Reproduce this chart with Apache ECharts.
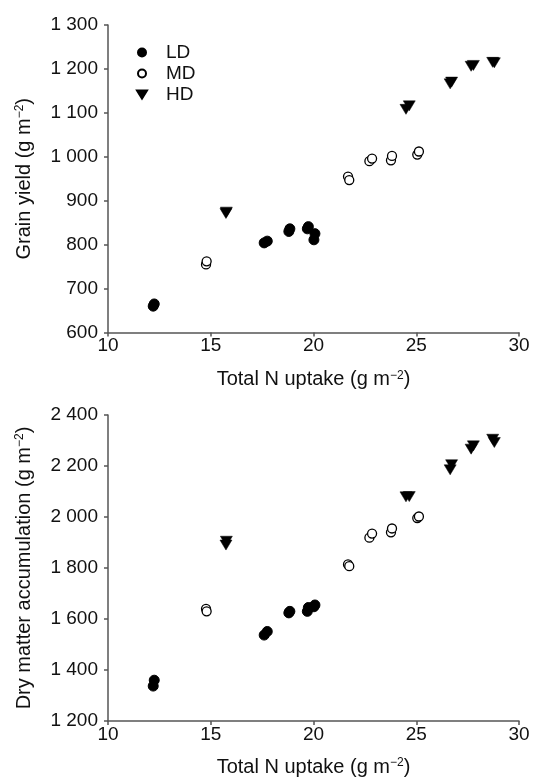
<!DOCTYPE html>
<html>
<head>
<meta charset="utf-8">
<script src="https://cdn.jsdelivr.net/npm/echarts@6/dist/echarts.min.js"></script>
<style>
html,body{margin:0;padding:0;background:#fff;}
#chart{width:538px;height:778px;}
</style>
</head>
<body>
<div id="chart"></div>
<script>
// Total N uptake (g m-2) per density group
var ldN = [12.2, 12.25, 17.6, 17.75, 18.8, 18.85, 19.7, 19.75, 20.07, 20.02];
var mdN = [14.77, 14.8, 21.68, 21.74, 22.72, 22.85, 23.77, 23.82, 25.05, 25.13];
var hdN = [15.74, 15.76, 24.5, 24.66, 26.65, 26.72, 27.67, 27.78, 28.72, 28.8];

// Grain yield (g m-2)
var ldYield = [660, 665, 804, 808, 830, 836, 836, 841, 825, 811];
var mdYield = [755, 762, 955, 947, 990, 996, 992, 1002, 1005, 1012];
var hdYield = [871, 874, 1108, 1116, 1166, 1170, 1206, 1208, 1215, 1214];

// Dry matter accumulation (g m-2)
var ldDM = [1337, 1360, 1537, 1551, 1624, 1630, 1630, 1645, 1655, 1648];
var mdDM = [1640, 1630, 1814, 1807, 1919, 1935, 1940, 1955, 1996, 2002];
var hdDM = [1890, 1905, 2079, 2080, 2185, 2205, 2266, 2279, 2305, 2292];

var groupNames = ['LD', 'MD', 'HD'];
var xTitle = 'Total N uptake (g m{sup|\u22122})';
var yTitles = ['Grain yield (g m{sup|\u22122})', 'Dry matter accumulation (g m{sup|\u22122})'];

function pairs(xs, ys) { return xs.map(function (x, i) { return [x, ys[i]]; }); }

var FONT = 'Liberation Sans, Arial, sans-serif';
var axisColor = '#555';
var textColor = '#111';

function fmt(v) {
  var s = String(v);
  if (v >= 1000) s = s.slice(0, s.length - 3) + ' ' + s.slice(s.length - 3);
  return s;
}

var richSup = { sup: { fontSize: 12, fontFamily: FONT, color: textColor, verticalAlign: 'top', padding: [0, 0, 8, 0] } };

function xAxis(gi, gap) {
  return {
    gridIndex: gi, type: 'value', min: 10, max: 30, interval: 5,
    name: xTitle, nameLocation: 'middle', nameGap: gap,
    nameTextStyle: { fontSize: 20, fontFamily: FONT, color: textColor, rich: richSup },
    axisLine: { lineStyle: { color: axisColor, width: 1.5 } },
    axisTick: { show: true, length: 4, lineStyle: { color: axisColor, width: 1.5 } },
    axisLabel: { fontSize: 19, fontFamily: FONT, color: textColor, margin: 4 },
    splitLine: { show: false }
  };
}
function yAxis(gi, mn, mx, iv, title) {
  return {
    gridIndex: gi, type: 'value', min: mn, max: mx, interval: iv,
    name: title, nameLocation: 'middle', nameGap: 74, nameRotate: 90,
    nameTextStyle: { fontSize: 20, fontFamily: FONT, color: textColor, rich: richSup },
    axisLine: { show: true, lineStyle: { color: axisColor, width: 1.5 } },
    axisTick: { show: true, length: 4, lineStyle: { color: axisColor, width: 1.5 } },
    axisLabel: { fontSize: 19, fontFamily: FONT, color: textColor, margin: 10, formatter: fmt },
    splitLine: { show: false }
  };
}

var styles = {
  LD: { symbol: 'circle', symbolSize: 10, symbolRotate: 0, itemStyle: { color: '#000', borderColor: '#000', borderWidth: 1, opacity: 1 } },
  MD: { symbol: 'circle', symbolSize: 9, symbolRotate: 0, itemStyle: { color: '#fff', borderColor: '#000', borderWidth: 1.3, opacity: 1 } },
  HD: { symbol: 'triangle', symbolSize: [12, 10], symbolRotate: 180, itemStyle: { color: '#000', borderColor: '#000', borderWidth: 0.5, opacity: 1 } }
};

var seriesData = [
  [pairs(ldN, ldYield), pairs(mdN, mdYield), pairs(hdN, hdYield)],
  [pairs(ldN, ldDM), pairs(mdN, mdDM), pairs(hdN, hdDM)]
];

var series = [];
for (var g = 0; g < 2; g++) {
  for (var k = 0; k < 3; k++) {
    var nm = groupNames[k];
    var st = styles[nm];
    series.push({
      name: nm, type: 'scatter', xAxisIndex: g, yAxisIndex: g,
      symbol: st.symbol, symbolSize: st.symbolSize, symbolRotate: st.symbolRotate,
      itemStyle: st.itemStyle, data: seriesData[g][k], animation: false,
      emphasis: { disabled: true }
    });
  }
}

var chart = echarts.init(document.getElementById('chart'), null, { renderer: 'canvas' });
chart.setOption({
  backgroundColor: '#fff',
  animation: false,
  textStyle: { fontFamily: FONT },
  legend: {
    data: [
      { name: 'LD', icon: 'circle' },
      { name: 'MD', icon: 'circle' },
      { name: 'HD', icon: 'path://M0,0 L10,0 L5,8 Z' }
    ],
    orient: 'vertical', left: 131, top: 38,
    itemWidth: 10, itemHeight: 8, itemGap: 2,
    textStyle: { fontSize: 19, fontFamily: FONT, color: textColor, padding: [0, 0, 0, 14], lineHeight: 19 },
    selectedMode: false
  },
  grid: [
    { left: 108, top: 25, width: 411, height: 307.5 },
    { left: 108, top: 415, width: 411, height: 307.7 }
  ],
  xAxis: [xAxis(0, 37), xAxis(1, 36)],
  yAxis: [yAxis(0, 600, 1300, 100, yTitles[0]), yAxis(1, 1200, 2400, 200, yTitles[1])],
  series: series
});
</script>
</body>
</html>
